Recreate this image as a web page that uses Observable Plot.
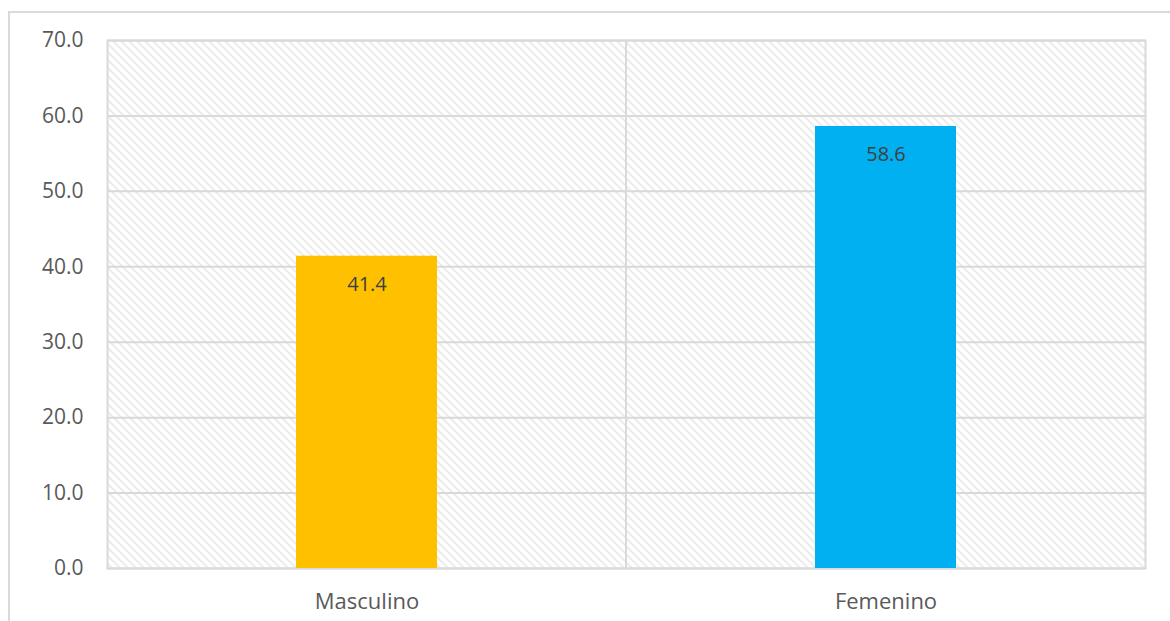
<!DOCTYPE html>
<html>
<head>
<meta charset="utf-8">
<script src="https://cdn.jsdelivr.net/npm/d3@7"></script>
<script src="https://cdn.jsdelivr.net/npm/@observablehq/plot@0.6"></script>
<style>
  html, body { margin: 0; padding: 0; background: #fff; }
  #wrap { position: relative; width: 1170px; height: 621px; overflow: hidden; }
  #border { position: absolute; left: 8px; top: 11px; width: 1200px; height: 700px;
            border-left: 2px solid #d9d9d9; border-top: 2px solid #d9d9d9; }
  #chart { position: absolute; left: 0; top: 0; }
</style>
</head>
<body>
<div id="wrap"><div id="border"></div><div id="chart"></div></div>
<script>
const categories = ["Masculino", "Femenino"];
const values = [41.4, 58.6];
const colors = ["#FFC000", "#00B0F0"];
const yTicks = [0, 10, 20, 30, 40, 50, 60, 70];

const data = categories.map((c, i) => ({cat: c, value: values[i], color: colors[i]}));

const midRule = () => (index, scales, values, dim) => {
  const x = (dim.marginLeft + dim.width - dim.marginRight) / 2;
  const line = document.createElementNS("http://www.w3.org/2000/svg", "line");
  line.setAttribute("x1", x); line.setAttribute("x2", x);
  line.setAttribute("y1", dim.marginTop); line.setAttribute("y2", dim.height - dim.marginBottom);
  line.setAttribute("stroke", "#d9d9d9"); line.setAttribute("stroke-width", 2);
  return line;
};

const plot = Plot.plot({
  width: 1170,
  height: 621,
  marginLeft: 107,
  marginRight: 25,
  marginTop: 40,
  marginBottom: 53,
  style: {fontFamily: "'Open Sans', 'Liberation Sans', sans-serif", fontSize: "20px", color: "#595959", background: "transparent"},
  x: {domain: categories, paddingInner: 0.728, paddingOuter: 0.364, label: null},
  y: {domain: [0, 70], label: null},
  marks: [
    Plot.frame({fill: "url(#hatch)", stroke: "none"}),
    Plot.gridY(yTicks, {stroke: "#d9d9d9", strokeOpacity: 1, strokeWidth: 2}),
    midRule(),
    Plot.frame({stroke: "#d9d9d9", strokeWidth: 2}),
    Plot.axisY(yTicks, {tickFormat: d => d.toFixed(1), tickSize: 0, tickPadding: 24, fontSize: 21, fill: "#595959", label: null}),
    Plot.axisX({tickSize: 0, tickPadding: 25, fontSize: 22, fill: "#595959", label: null}),
    Plot.barY(data, {x: "cat", y: "value", fill: "color"}),
    Plot.text(data, {x: "cat", y: "value", text: d => d.value.toFixed(1), dy: 28, fill: "#404040", fontSize: 20})
  ]
});

const ns = "http://www.w3.org/2000/svg";
const defs = document.createElementNS(ns, "defs");
defs.innerHTML = `<pattern id="hatch" patternUnits="userSpaceOnUse" width="8" height="8">
  <rect width="8" height="8" fill="#ffffff"/>
  <path d="M0,0 L8,8 M-1,7 L1,9 M7,-1 L9,1" stroke="#dcdcdc" stroke-width="1.2"/>
</pattern>`;
plot.insertBefore(defs, plot.firstChild);
document.getElementById("chart").appendChild(plot);
</script>
</body>
</html>
